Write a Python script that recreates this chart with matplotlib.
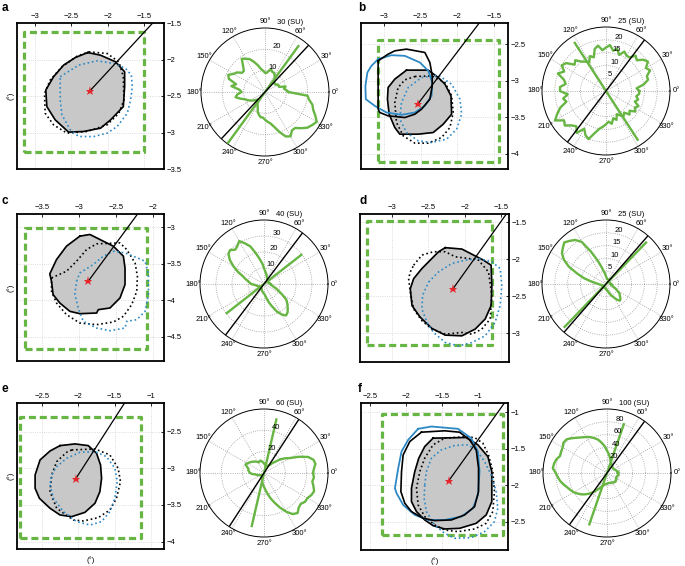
import numpy as np
import matplotlib.pyplot as plt
from matplotlib.ticker import FuncFormatter

plt.rcParams['font.family'] = ['Liberation Sans', 'DejaVu Sans']
plt.rcParams['font.size'] = 5.5

W, H = 685, 566
GREEN = '#67b543'
BLUE = '#2d89c5'
GRAY = '#c8c8c8'

curve_angles = list(range(0, 360, 5))

######## panel a
a_xlim, a_ylim = [-3.25, -1.22], [-3.5, -1.5]
a_xticks, a_yticks = [-3, -2.5, -2, -1.5], [-3.5, -3, -2.5, -2, -1.5]
a_square = [-3.16, -1.49, -3.27, -1.63]
a_star = (-2.245, -2.432)
a_gray = [(-2.273, -1.905), (-2.097, -1.941), (-1.889, -2.032), (-1.764, -2.168), (-1.764, -2.373),
          (-1.782, -2.645), (-1.958, -2.827), (-2.097, -2.941), (-2.329, -2.986), (-2.537, -2.995),
          (-2.722, -2.827), (-2.838, -2.645), (-2.852, -2.418), (-2.745, -2.236), (-2.606, -2.077),
          (-2.444, -1.973)]
a_dot_black = [(-2.259, -1.895), (-2.005, -1.918), (-1.843, -2.032), (-1.782, -2.236), (-1.773, -2.555),
               (-1.843, -2.736), (-2.005, -2.895), (-2.282, -2.986), (-2.560, -3.009), (-2.745, -2.895),
               (-2.861, -2.736), (-2.870, -2.464), (-2.792, -2.282), (-2.630, -2.100), (-2.421, -1.955)]
a_dot_blue = [(-2.653, -2.236), (-2.398, -2.077), (-2.144, -2.018), (-1.912, -2.055), (-1.750, -2.123),
              (-1.671, -2.214), (-1.657, -2.373), (-1.681, -2.555), (-1.727, -2.736), (-1.866, -2.918),
              (-2.005, -3.009), (-2.190, -3.055), (-2.398, -3.055), (-2.514, -2.964), (-2.630, -2.759),
              (-2.653, -2.555), (-2.653, -2.373)]
a_map_angle = 47
a_rmax, a_rticks = 30, [10, 20]
a_curve = [11, 10, 9, 10, 7, 7, 7, 6, 6, 6, 7, 8, 9, 10, 10, 11, 10, 9,
           9, 10, 11, 13, 15, 17, 18, 19, 16, 14, 14, 16, 17, 19, 18, 14, 16, 12,
           11, 13, 14, 12, 10, 9, 8, 7, 6, 5, 5, 6, 7, 8, 10, 11, 12, 12,
           13, 14, 15, 17, 20, 23, 24, 22, 22, 24, 26, 27, 28, 26, 24, 23, 21, 20]
a_green_line = (54, 26.6, 29.4)
a_polar_angle = 47

######## panel b
b_xlim, b_ylim = [-3.31, -1.31], [-4.21, -2.21]
b_xticks, b_yticks = [-3, -2.5, -2, -1.5], [-4, -3.5, -3, -2.5]
b_square = [-3.077, -1.427, -4.112, -2.445]
b_star = (-2.532, -3.313)
b_gray = [(-2.691, -2.856), (-2.395, -2.856), (-2.259, -2.957), (-2.168, -3.048), (-2.086, -3.208),
          (-2.077, -3.459), (-2.191, -3.596), (-2.327, -3.710), (-2.532, -3.733), (-2.782, -3.733),
          (-2.850, -3.642), (-2.927, -3.459), (-2.950, -3.253), (-2.941, -3.094), (-2.850, -2.979)]
b_dot_black = [(-2.577, -2.943), (-2.350, -2.934), (-2.168, -3.025), (-2.077, -3.208), (-2.055, -3.436),
               (-2.100, -3.642), (-2.214, -3.779), (-2.395, -3.856), (-2.577, -3.856), (-2.736, -3.756),
               (-2.827, -3.573), (-2.850, -3.299), (-2.805, -3.094), (-2.714, -2.989)]
b_dot_blue = [(-2.486, -2.957), (-2.259, -2.925), (-2.077, -3.048), (-1.964, -3.253), (-1.941, -3.459),
              (-2.009, -3.664), (-2.145, -3.801), (-2.350, -3.847), (-2.532, -3.824), (-2.691, -3.710),
              (-2.782, -3.527), (-2.759, -3.299), (-2.668, -3.094)]
b_solid_black = [(-3.077, -2.728), (-2.941, -2.637), (-2.850, -2.591), (-2.691, -2.568), (-2.441, -2.614),
                 (-2.373, -2.751), (-2.341, -2.934), (-2.341, -3.071), (-2.373, -3.253), (-2.486, -3.390),
                 (-2.577, -3.459), (-2.714, -3.505), (-2.941, -3.482), (-3.055, -3.436), (-3.077, -3.390)]
b_solid_blue = [(-3.077, -2.705), (-2.895, -2.651), (-2.714, -2.660), (-2.509, -2.751), (-2.395, -2.865),
                (-2.341, -3.025), (-2.350, -3.208), (-2.441, -3.345), (-2.577, -3.436), (-2.759, -3.468),
                (-2.964, -3.436), (-3.123, -3.345), (-3.245, -3.253), (-3.250, -3.071), (-3.223, -2.888),
                (-3.168, -2.797)]
b_map_angle = 53
b_rmax, b_rticks = 25, [5, 10, 15, 20]
b_curve = [13, 12, 15, 17, 17, 19, 18, 20, 19, 17, 18, 16, 16, 17, 15, 17, 16, 18,
           17, 16, 18, 17, 14, 15, 13, 14, 15, 17, 16, 19, 20, 18, 20, 17, 16, 18,
           18, 15, 17, 16, 19, 21, 23, 20, 21, 19, 18, 20, 17, 19, 20, 17, 15, 14,
           13, 12, 13, 11, 12, 10, 11, 12, 11, 13, 12, 14, 13, 14, 12, 13, 12, 13]
b_green_line = (123, 22.4, 22.7)
b_polar_angle = 53

######## panel c
c_xlim, c_ylim = [-3.84, -1.85], [-4.83, -2.82]
c_xticks, c_yticks = [-3.5, -3, -2.5, -2], [-4.5, -4, -3.5, -3]
c_square = [-3.735, -2.084, -4.662, -3.009]
c_star = (-2.876, -3.740)
c_gray = [(-2.989, -3.123), (-2.853, -3.100), (-2.717, -3.169), (-2.536, -3.260), (-2.400, -3.397),
          (-2.378, -3.557), (-2.378, -3.785), (-2.446, -3.968), (-2.581, -4.105), (-2.740, -4.128),
          (-2.762, -4.174), (-2.989, -4.183), (-3.124, -4.151), (-3.260, -4.037), (-3.351, -3.922),
          (-3.373, -3.740), (-3.396, -3.639), (-3.305, -3.443), (-3.170, -3.260)]
c_dot_black = [(-3.373, -3.694), (-3.170, -3.603), (-3.034, -3.466), (-2.898, -3.306), (-2.762, -3.228),
               (-2.446, -3.215), (-2.355, -3.306), (-2.242, -3.489), (-2.210, -3.671), (-2.219, -3.877),
               (-2.287, -4.059), (-2.400, -4.219), (-2.536, -4.297), (-2.762, -4.333), (-2.989, -4.311),
               (-3.170, -4.196), (-3.305, -4.037), (-3.373, -3.877)]
c_dot_blue = [(-3.034, -3.740), (-2.989, -3.626), (-2.808, -3.511), (-2.672, -3.397), (-2.536, -3.329),
              (-2.378, -3.352), (-2.265, -3.397), (-2.106, -3.466), (-2.061, -3.648), (-2.061, -3.922),
              (-2.106, -4.151), (-2.219, -4.265), (-2.355, -4.288), (-2.378, -4.379), (-2.581, -4.416),
              (-2.762, -4.379), (-2.943, -4.288), (-3.011, -4.105), (-3.057, -3.922)]
c_map_angle = 54
c_rmax, c_rticks = 40, [10, 20, 30]
c_curve = [4, 3.5, 3, 3, 3, 3, 3, 3, 3, 3, 3, 3.5, 4, 4.5, 5, 6, 7, 8,
           10, 13, 16, 20, 25, 28, 31, 29, 28, 30, 29, 26, 22, 18, 14, 12, 10, 9,
           8, 6, 5, 4.5, 4, 3.5, 3, 3, 3, 3, 3, 3, 3, 3.5, 4, 4.5, 5, 5.5,
           6, 7, 9, 12, 15, 19, 22, 24, 23, 21, 19, 17, 13, 10, 8, 6, 5, 4.5]
c_green_line = (38, 29.6, 29.5)
c_polar_angle = 53

######## panel d
d_xlim, d_ylim = [-3.44, -1.39], [-3.39, -1.39]
d_xticks, d_yticks = [-3, -2.5, -2, -1.5], [-3, -2.5, -2, -1.5]
d_square = [-3.343, -1.626, -3.164, -1.491]
d_star = (-2.167, -2.409)
d_gray = [(-2.267, -1.845), (-2.038, -1.864), (-1.878, -1.945), (-1.741, -2.014), (-1.636, -2.082),
          (-1.626, -2.355), (-1.636, -2.627), (-1.718, -2.809), (-1.855, -2.945), (-2.038, -3.036),
          (-2.267, -3.027), (-2.451, -2.936), (-2.611, -2.786), (-2.725, -2.627), (-2.748, -2.400),
          (-2.702, -2.264), (-2.588, -2.127), (-2.451, -1.991), (-2.359, -1.900)]
d_dot_black = [(-2.702, -2.082), (-2.588, -1.945), (-2.428, -1.900), (-2.267, -1.900), (-2.130, -1.968),
               (-1.947, -1.991), (-1.810, -2.014), (-1.672, -2.173), (-1.626, -2.491), (-1.649, -2.809),
               (-1.764, -2.945), (-1.901, -3.014), (-2.038, -2.991), (-2.267, -3.014), (-2.451, -2.945),
               (-2.588, -2.832), (-2.702, -2.673), (-2.748, -2.445), (-2.771, -2.264), (-2.748, -2.173)]
d_dot_blue = [(-2.496, -2.309), (-2.359, -2.173), (-2.176, -2.059), (-1.993, -2.014), (-1.810, -1.991),
              (-1.626, -2.036), (-1.512, -2.127), (-1.489, -2.355), (-1.512, -2.627), (-1.581, -2.855),
              (-1.718, -3.036), (-1.901, -3.127), (-2.084, -3.173), (-2.267, -3.127), (-2.428, -2.991),
              (-2.519, -2.855), (-2.588, -2.673), (-2.579, -2.491)]
d_map_angle = 54
d_rmax, d_rticks = 25, [5, 10, 15, 20]
d_curve = [2, 1.5, 1.5, 1.5, 1.5, 1.5, 1.5, 1.5, 1.5, 1.5, 2, 2, 2, 2, 2, 2, 2, 2.5,
           3, 4, 5, 7, 10, 14, 19, 21, 22, 23, 22, 21, 19, 16, 12, 9, 6, 4,
           3, 2.5, 2, 1.5, 1.5, 1.5, 1.5, 1.5, 1.5, 1.5, 1.5, 1.5, 1.5, 1.5, 1.5, 1.5, 1.5, 2,
           2, 2, 2.5, 3, 4, 5, 6, 7.5, 8.5, 8, 7, 6.5, 5, 4, 3, 2.5, 2, 2]
d_green_line = (46, 22.5, 23.3)
d_polar_angle = 49

######## panel e
e_xlim, e_ylim = [-2.84, -0.82], [-4.1, -2.11]
e_xticks, e_yticks = [-2.5, -2, -1.5, -1], [-4, -3.5, -3, -2.5]
e_square = [-2.797, -1.130, -3.955, -2.295]
e_star = (-2.034, -3.145)
e_gray = [(-2.249, -2.691), (-2.043, -2.668), (-1.861, -2.691), (-1.747, -2.795), (-1.692, -2.955),
          (-1.678, -3.136), (-1.701, -3.318), (-1.769, -3.477), (-1.906, -3.600), (-2.089, -3.659),
          (-2.249, -3.636), (-2.386, -3.545), (-2.532, -3.409), (-2.591, -3.273), (-2.591, -3.091),
          (-2.523, -2.886), (-2.386, -2.764)]
e_dot_black = [(-2.089, -2.750), (-1.769, -2.736), (-1.564, -2.818), (-1.450, -3.000), (-1.418, -3.182),
               (-1.473, -3.409), (-1.564, -3.568), (-1.724, -3.673), (-1.929, -3.718), (-2.066, -3.705),
               (-2.295, -3.545), (-2.386, -3.318), (-2.363, -3.091), (-2.295, -2.909), (-2.158, -2.782)]
e_dot_blue = [(-2.386, -3.227), (-2.340, -3.409), (-2.203, -3.591), (-2.021, -3.727), (-1.838, -3.773),
              (-1.678, -3.727), (-1.564, -3.591), (-1.495, -3.409), (-1.463, -3.182), (-1.495, -3.000),
              (-1.610, -2.841), (-1.769, -2.773), (-1.975, -2.782), (-2.158, -2.864), (-2.295, -2.977),
              (-2.363, -3.091)]
e_map_angle = 57
e_rmax, e_rticks = 60, [20, 40]
e_curve = [46, 47, 49, 48, 44, 36, 28, 24, 20, 15, 12, 9, 8, 7, 7, 7, 8, 8,
           9, 10, 11, 12, 12, 11, 12, 13, 14, 15, 16, 17, 18, 19, 17, 15, 15, 14,
           13, 11, 8, 7, 6, 5, 4, 3.5, 3, 3, 3, 3.5, 4, 5, 6, 7, 9, 11,
           13, 16, 20, 25, 30, 36, 42, 47, 49, 46, 45, 47, 47, 49, 50, 48, 46, 47]
e_green_line = (77, 51.5, 51)
e_polar_angle = 57

######## panel f
f_xlim, f_ylim = [-2.63, -0.58], [-2.89, -0.87]
f_xticks, f_yticks = [-2.5, -2, -1.5, -1], [-2.5, -2, -1.5, -1]
f_square = [-2.333, -0.653, -2.683, -1.023]
f_star = (-1.407, -1.940)
f_gray = [(-1.625, -1.353), (-1.162, -1.344), (-1.000, -1.445), (-0.861, -1.606), (-0.806, -1.812),
          (-0.806, -2.225), (-0.884, -2.408), (-1.023, -2.523), (-1.255, -2.592), (-1.463, -2.601),
          (-1.625, -2.555), (-1.741, -2.477), (-1.856, -2.362), (-1.926, -2.225), (-1.926, -2.041),
          (-1.880, -1.812), (-1.824, -1.628), (-1.741, -1.468)]
f_dot_black = [(-1.463, -1.353), (-1.208, -1.335), (-1.046, -1.344), (-0.931, -1.422), (-0.852, -1.583),
               (-0.792, -1.812), (-0.769, -2.087), (-0.792, -2.362), (-0.884, -2.523), (-1.046, -2.601),
               (-1.278, -2.638), (-1.463, -2.615), (-1.602, -2.546), (-1.741, -2.431), (-1.833, -2.271),
               (-1.856, -2.041), (-1.810, -1.812), (-1.741, -1.628), (-1.625, -1.445)]
f_dot_blue = [(-1.741, -1.995), (-1.718, -1.812), (-1.648, -1.628), (-1.509, -1.514), (-1.324, -1.454),
              (-1.139, -1.445), (-1.023, -1.514), (-0.907, -1.674), (-0.815, -1.858), (-0.745, -2.087),
              (-0.722, -2.317), (-0.769, -2.500), (-0.907, -2.638), (-1.093, -2.720), (-1.324, -2.729),
              (-1.463, -2.661), (-1.602, -2.546), (-1.718, -2.362), (-1.750, -2.179)]
f_solid_black = [(-1.787, -1.271), (-1.463, -1.252), (-1.255, -1.271), (-1.116, -1.376), (-1.023, -1.514),
                 (-0.991, -1.766), (-0.991, -2.087), (-1.046, -2.294), (-1.185, -2.408), (-1.370, -2.477),
                 (-1.602, -2.486), (-1.764, -2.454), (-1.926, -2.362), (-2.019, -2.248), (-2.074, -2.087),
                 (-2.065, -1.812), (-2.042, -1.583), (-1.949, -1.399)]
f_solid_blue = [(-1.833, -1.225), (-1.648, -1.193), (-1.278, -1.225), (-1.093, -1.353), (-1.000, -1.537),
                (-0.977, -1.812), (-1.000, -2.133), (-1.069, -2.317), (-1.231, -2.431), (-1.463, -2.477),
                (-1.694, -2.477), (-1.880, -2.408), (-2.042, -2.271), (-2.134, -2.110), (-2.157, -2.041),
                (-2.111, -1.766), (-2.065, -1.537), (-1.972, -1.376)]
f_map_angle = 54
f_rmax, f_rticks = 100, [20, 40, 60, 80]
f_curve = [17, 18, 16, 15, 14, 13, 12, 12, 12, 12, 13, 14, 15, 16, 18, 21, 25, 30,
           35, 42, 48, 54, 58, 62, 65, 68, 72, 77, 82, 83, 80, 79, 78, 82, 84, 85,
           80, 77, 74, 70, 66, 63, 60, 56, 52, 47, 42, 36, 30, 26, 22, 20, 18, 17,
           17, 16, 16, 16, 16, 17, 17, 18, 18, 19, 18, 17, 17, 16, 16, 17, 18, 18]
f_green_line = (71, 80.6, 84.8)
f_polar_angle = 54


def rect(l, t, r, b):
    return [l / W, 1 - b / H, (r - l) / W, (b - t) / H]


def closed(pts):
    xs = [p[0] for p in pts] + [pts[0][0]]
    ys = [p[1] for p in pts] + [pts[0][1]]
    return xs, ys


minus_fmt = FuncFormatter(lambda v, p: f'{v:g}'.replace('-', '\u2212'))


def draw_map(box, xlim, ylim, xticks, yticks, square, gray, dblack, dblue, star, ang,
             sblack=None, sblue=None, ylab=False, xlab=False):
    ax = fig.add_axes(rect(*box))
    ax.set_xlim(xlim)
    ax.set_ylim(ylim)
    ax.set_xticks(xticks)
    ax.set_yticks(yticks)
    ax.xaxis.tick_top()
    ax.yaxis.tick_right()
    ax.xaxis.set_major_formatter(minus_fmt)
    ax.yaxis.set_major_formatter(minus_fmt)
    ax.tick_params(length=2, direction='in', pad=2, width=0.6)
    ax.grid(color='0.82', ls=':', lw=0.6)
    for s in ax.spines.values():
        s.set_linewidth(1.3)
    x0, x1, y0, y1 = square
    ax.plot([x0, x1, x1, x0, x0], [y0, y0, y1, y1, y0], color=GREEN, lw=2.3,
            ls=(0, (2.2, 1.2)), zorder=2)
    xs, ys = closed(gray)
    ax.fill(xs, ys, color=GRAY, zorder=3)
    ax.plot(xs, ys, color='k', lw=1.2, zorder=4)
    xs, ys = closed(dblack)
    ax.plot(xs, ys, color='k', lw=1.2, ls=':', zorder=5)
    xs, ys = closed(dblue)
    ax.plot(xs, ys, color=BLUE, lw=1.2, ls=':', zorder=5)
    if sblue is not None:
        xs, ys = closed(sblue)
        ax.plot(xs, ys, color=BLUE, lw=1.3, zorder=5)
    if sblack is not None:
        xs, ys = closed(sblack)
        ax.plot(xs, ys, color='k', lw=1.2, zorder=5)
    sx, sy = star
    t = np.deg2rad(ang)
    ax.plot([sx, sx + 5 * np.cos(t)], [sy, sy + 5 * np.sin(t)], color='k', lw=0.9, zorder=6)
    ax.plot(sx, sy, marker='*', color='#e5262b', ms=6.5, mew=0, zorder=7)
    if ylab:
        ax.set_ylabel('(\u00b0)', labelpad=2)
        ax.yaxis.set_label_position('left')
    if xlab:
        ax.set_xlabel('(\u00b0)', labelpad=5)
        ax.xaxis.set_label_position('bottom')
    return ax


def draw_polar(center, rmax, rticks, curve, gline, ang):
    cx, cy = center
    R = 64
    ax = fig.add_axes(rect(cx - R, cy - R, cx + R, cy + R), projection='polar')
    th = np.deg2rad(curve_angles + [360])
    ax.plot(th, curve + curve[:1], color=GREEN, lw=1.7, zorder=3)
    g, r1, r2 = gline
    ax.plot(np.deg2rad([g, g, g + 180, g + 180]), [r1, 0, 0, r2], color=GREEN, lw=1.7, zorder=3)
    ax.plot(np.deg2rad([ang, ang, ang + 180, ang + 180]), [rmax, 0, 0, rmax], color='k', lw=1.0, zorder=4)
    ax.set_ylim(0, rmax)
    ax.set_yticks(rticks)
    ax.set_yticklabels([])
    degs = list(range(0, 360, 30))
    ax.set_xticks(np.deg2rad(degs))
    ax.set_xticklabels([])
    ax.grid(color='0.6', ls=':', lw=0.6)
    ax.spines['polar'].set_linewidth(0.7)
    for d in degs:
        ax.text(np.deg2rad(d), rmax * 1.1, f'{d}\u00b0', ha='center', va='center', clip_on=False)
    for rt in rticks:
        ax.text(np.deg2rad(80), rt, str(rt), ha='left', va='bottom', zorder=5)
    ax.text(np.deg2rad(80), rmax * 1.04, f'{rmax} (SU)', ha='left', va='bottom', clip_on=False)
    return ax


fig = plt.figure(figsize=(W / 100, H / 100), dpi=100)

draw_map((17, 23, 164, 169), a_xlim, a_ylim, a_xticks, a_yticks, a_square, a_gray, a_dot_black,
         a_dot_blue, a_star, a_map_angle, ylab=True)
draw_polar((265, 92), a_rmax, a_rticks, a_curve, a_green_line, a_polar_angle)

draw_map((361, 23, 508, 169), b_xlim, b_ylim, b_xticks, b_yticks, b_square, b_gray, b_dot_black,
         b_dot_blue, b_star, b_map_angle, sblack=b_solid_black, sblue=b_solid_blue)
draw_polar((606, 91), b_rmax, b_rticks, b_curve, b_green_line, b_polar_angle)

draw_map((17, 214, 164, 361), c_xlim, c_ylim, c_xticks, c_yticks, c_square, c_gray, c_dot_black,
         c_dot_blue, c_star, c_map_angle, ylab=True)
draw_polar((264, 284), c_rmax, c_rticks, c_curve, c_green_line, c_polar_angle)

draw_map((360, 214, 509, 362), d_xlim, d_ylim, d_xticks, d_yticks, d_square, d_gray, d_dot_black,
         d_dot_blue, d_star, d_map_angle)
draw_polar((606, 284), d_rmax, d_rticks, d_curve, d_green_line, d_polar_angle)

draw_map((17, 403, 164, 549), e_xlim, e_ylim, e_xticks, e_yticks, e_square, e_gray, e_dot_black,
         e_dot_blue, e_star, e_map_angle, ylab=True, xlab=True)
draw_polar((264, 473), e_rmax, e_rticks, e_curve, e_green_line, e_polar_angle)

draw_map((361, 403, 508, 550), f_xlim, f_ylim, f_xticks, f_yticks, f_square, f_gray, f_dot_black,
         f_dot_blue, f_star, f_map_angle, sblack=f_solid_black, sblue=f_solid_blue, xlab=True)
draw_polar((607, 473), f_rmax, f_rticks, f_curve, f_green_line, f_polar_angle)

for lab, x, y in [('a', 2, 11), ('b', 358, 11), ('c', 2, 204), ('d', 360, 204), ('e', 2, 392), ('f', 358, 392)]:
    fig.text(x / W, 1 - y / H, lab, fontsize=8.5, fontweight='bold', va='baseline', ha='left')

fig.savefig('out.png', dpi=100)
